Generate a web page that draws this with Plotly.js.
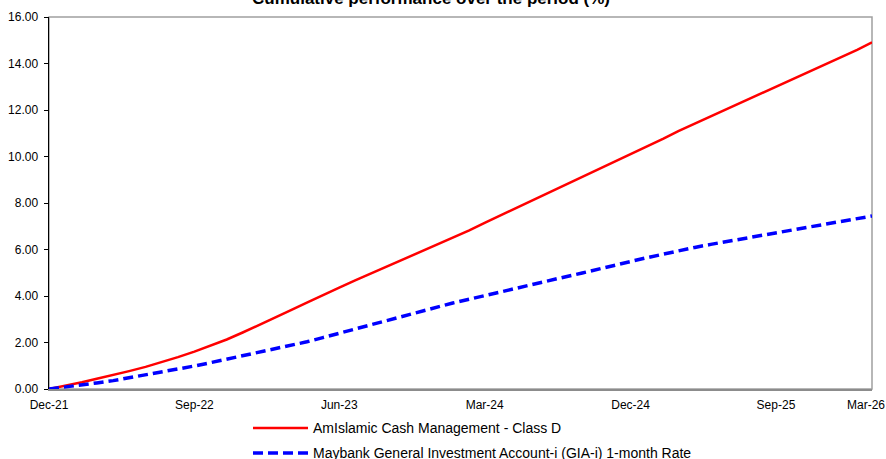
<!DOCTYPE html>
<html>
<head>
<meta charset="utf-8">
<script src="https://cdn.plot.ly/plotly-3.0.1.min.js"></script>
<style>html,body{margin:0;padding:0;background:#fff;}#chart{width:886px;height:459px;}</style>
</head>
<body>
<div id="chart"></div>
<script>
const months = [
  '2021-12-01','2022-01-01','2022-02-01','2022-03-01','2022-04-01','2022-05-01','2022-06-01',
  '2022-07-01','2022-08-01','2022-09-01','2022-10-01','2022-11-01','2022-12-01',
  '2023-01-01','2023-02-01','2023-03-01','2023-04-01','2023-05-01','2023-06-01',
  '2023-07-01','2023-08-01','2023-09-01','2023-10-01','2023-11-01','2023-12-01',
  '2024-01-01','2024-02-01','2024-03-01','2024-04-01','2024-05-01','2024-06-01',
  '2024-07-01','2024-08-01','2024-09-01','2024-10-01','2024-11-01','2024-12-01',
  '2025-01-01','2025-02-01','2025-03-01','2025-04-01','2025-05-01','2025-06-01',
  '2025-07-01','2025-08-01','2025-09-01','2025-10-01','2025-11-01','2025-12-01',
  '2026-01-01','2026-02-01','2026-03-01'
];
const fundName = 'AmIslamic Cash Management - Class D';
const benchName = 'Maybank General Investment Account-i (GIA-i) 1-month Rate';
const fundValues = [
  0.00,0.14,0.29,0.44,0.60,0.77,0.95,1.15,1.37,1.61,1.86,2.13,2.43,
  2.75,3.06,3.38,3.71,4.04,4.36,4.67,4.98,5.28,5.58,5.88,6.19,
  6.50,6.82,7.15,7.48,7.80,8.13,8.46,8.79,9.12,9.45,9.78,10.11,
  10.44,10.77,11.09,11.41,11.73,12.05,12.37,12.69,13.01,13.32,13.63,13.95,
  14.27,14.59,14.91
];
const benchValues = [
  0.00,0.08,0.17,0.26,0.36,0.48,0.60,0.73,0.87,0.99,1.13,1.28,1.43,
  1.57,1.71,1.86,2.03,2.21,2.40,2.59,2.79,2.98,3.17,3.35,3.53,
  3.70,3.86,4.02,4.18,4.34,4.51,4.67,4.83,4.99,5.16,5.33,5.49,
  5.65,5.80,5.95,6.09,6.22,6.35,6.47,6.59,6.71,6.83,6.96,7.08,
  7.20,7.32,7.44
];
const tickDates = ['2021-12-01','2022-09-01','2023-06-01','2024-03-01','2024-12-01','2025-09-01'];
const tickLabels = ['Dec-21','Sep-22','Jun-23','Mar-24','Dec-24','Sep-25'];
const lastTickLabel = 'Mar-26';
const yTicks = [0,2,4,6,8,10,12,14,16];
const yTickLabels = ['0.00','2.00','4.00','6.00','8.00','10.00','12.00','14.00','16.00'];
const titleText = 'Cumulative performance over the period (%)';

const FONT = 'Liberation Sans, Arial, Helvetica, sans-serif';
const W = 886, H = 459, ML = 49, MR = 14, MT = 17, MB = 70;
const PW = W - ML - MR, PH = H - MT - MB;
const px = v => (v - ML) / PW;
const py = v => (H - MB - v) / PH;

const traces = [
  {x: months, y: fundValues, name: fundName, type: 'scatter', mode: 'lines',
   line: {color: '#ff0000', width: 2.5}, showlegend: false},
  {x: months, y: benchValues, name: benchName, type: 'scatter', mode: 'lines',
   line: {color: '#0000ff', width: 3.5, dash: '10px,5px'}, showlegend: false}
];

const layout = {
  width: W, height: H,
  margin: {l: ML, r: MR, t: MT, b: MB},
  paper_bgcolor: '#ffffff', plot_bgcolor: '#ffffff',
  font: {family: FONT, size: 12, color: '#000'},
  showlegend: false,
  xaxis: {type: 'date', range: ['2021-12-01', '2026-03-01'],
          tickmode: 'array', tickvals: tickDates, ticktext: tickLabels,
          showgrid: false, zeroline: false, showline: true, linecolor: '#8c8c8c', linewidth: 2,
          ticks: '', ticklabelstandoff: 4,
          tickfont: {family: FONT, size: 12, color: '#000'}, fixedrange: true},
  yaxis: {range: [0, 16], tickmode: 'array', tickvals: yTicks, ticktext: yTickLabels,
          showgrid: false, zeroline: false, showline: true, linecolor: '#000', linewidth: 1.5,
          ticks: 'outside', ticklen: 4, tickcolor: '#000', tickwidth: 1, ticklabelstandoff: 3,
          tickfont: {family: FONT, size: 12, color: '#000'}, fixedrange: true},
  shapes: [
    {type: 'rect', xref: 'paper', yref: 'paper', x0: 0, x1: 1, y0: 0, y1: 1,
     line: {color: '#a0a0a0', width: 1.5}, layer: 'below'},
    {type: 'line', xref: 'paper', yref: 'paper', x0: px(253), x1: px(308), y0: py(428), y1: py(428),
     line: {color: '#ff0000', width: 2.5}},
    {type: 'line', xref: 'paper', yref: 'paper', x0: px(253), x1: px(308), y0: py(453), y1: py(453),
     line: {color: '#0000ff', width: 3.5, dash: '10px,5px'}}
  ],
  annotations: [
    {text: '<b>' + titleText + '</b>', xref: 'paper', yref: 'paper', x: px(430.5), y: 1,
     xanchor: 'center', yanchor: 'bottom', yshift: 7, showarrow: false,
     font: {family: FONT, size: 17, color: '#000'}},
    {text: lastTickLabel, xref: 'paper', yref: 'paper', x: 1, y: 0,
     xanchor: 'center', yanchor: 'top', xshift: -6, yshift: -7, showarrow: false,
     font: {family: FONT, size: 12, color: '#000'}},
    {text: fundName, xref: 'paper', yref: 'paper', x: px(311), y: py(428),
     xanchor: 'left', yanchor: 'middle', showarrow: false,
     font: {family: FONT, size: 14, color: '#000'}},
    {text: benchName, xref: 'paper', yref: 'paper', x: px(311), y: py(453),
     xanchor: 'left', yanchor: 'middle', showarrow: false,
     font: {family: FONT, size: 14, color: '#000'}}
  ]
};

Plotly.newPlot('chart', traces, layout, {displayModeBar: false, staticPlot: true});
</script>
</body>
</html>
